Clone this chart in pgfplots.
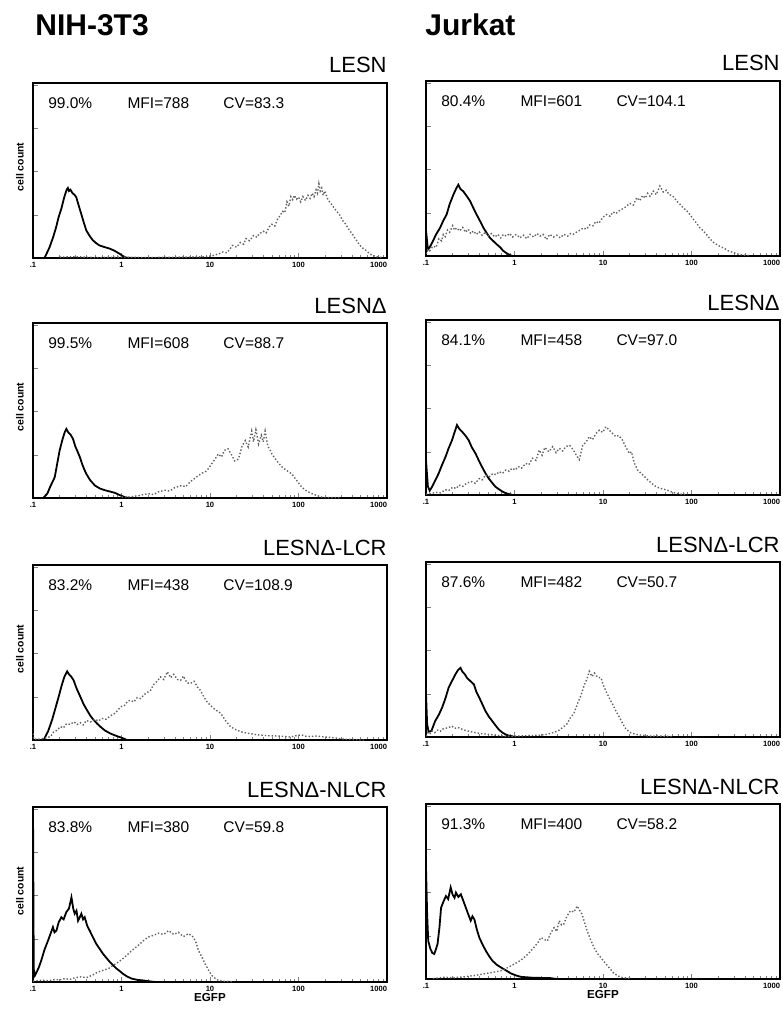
\documentclass[border=0pt]{standalone}
\usepackage{pgfplots}
\pgfplotsset{compat=1.18}
\usepackage{fontspec}
\setmainfont{Liberation Sans}

\newcommand\px{0.5pt}
\tikzset{stat/.style={anchor=base west, inner sep=0pt, font=\fontsize{7.75}{9}\selectfont}}
\pgfplotsset{
  every axis title shift=0pt,
  every axis/.append style={
    scale only axis, width=177pt, height=87.5pt,
    xmin=0.1, xmax=1000, ymin=0, ymax=4.05,
    xtick={0.1,1,10,100,1000}, xticklabels={.1,1,10,100,\llap{1000}},
    minor xtick={0.2,0.3,0.4,0.5,0.6,0.7,0.8,0.9,2,3,4,5,6,7,8,9,20,30,40,50,60,70,80,90,200,300,400,500,600,700,800,900},
    ytick={0,1,2,3,4}, yticklabels={},
    tick align=inside, xtick pos=bottom, ytick pos=left,
    major tick length=2.5pt, minor tick length=1.5pt,
    axis line style={line width=0.8pt},
    xticklabel style={font=\fontsize{3.8}{4}\selectfont\bfseries, inner sep=0pt, anchor=center, yshift=-3.5pt},
    title style={at={(1,1)}, anchor=base east, yshift=5pt, inner sep=0pt, font=\fontsize{11}{13}\selectfont},
    ylabel style={at={(axis description cs:-0.037,0.52)}, anchor=center, inner sep=0pt, font=\fontsize{5.2}{6}\selectfont\bfseries},
    xlabel style={at={(axis description cs:0.5,0)}, anchor=base, yshift=-9.5pt, inner sep=0pt, font=\fontsize{5.8}{6}\selectfont\bfseries},
  },
  ctl/.style={black, line width=0.9pt, no marks},
  gfp/.style={black!62, densely dotted, line width=0.7pt, no marks},
}

\begin{document}
\begin{tikzpicture}
\useasboundingbox (0,0) rectangle (782*\px,-1011*\px);
\node[anchor=base west, inner sep=0pt, font=\fontsize{15}{18}\selectfont\bfseries] at (35*\px,-36*\px) {NIH-3T3};
\node[anchor=base west, inner sep=0pt, font=\fontsize{15}{18}\selectfont\bfseries] at (425*\px,-36*\px) {Jurkat};

% ---- row 1 ----
\begin{semilogxaxis}[at={(33*\px,-258*\px)}, anchor=south west, title={LESN}, ylabel={cell count}]
\addplot[ctl] coordinates {(0.1,0)(0.135,0)(0.154,0.25)(0.17,0.5)(0.183,0.72)(0.195,0.95)(0.209,1.14)(0.225,1.4)(0.24,1.58)(0.248,1.62)(0.255,1.55)(0.265,1.58)(0.28,1.5)(0.295,1.46)(0.308,1.41)(0.33,1.2)(0.351,1.02)(0.375,0.82)(0.40,0.64)(0.44,0.5)(0.475,0.41)(0.52,0.34)(0.565,0.29)(0.65,0.25)(0.73,0.22)(0.83,0.17)(0.95,0.1)(1.05,0.04)(1.12,0.01)(1.3,0)};
\addplot[gfp] coordinates {(0.2,0.02)(0.3,0.03)(0.5,0.01)(1,0.02)(2,0.01)(5,0.02)(9,0.03)(11,0.06)(12.7,0.1)(14,0.14)(15.5,0.12)(17,0.22)(18,0.29)(20,0.25)(22,0.36)(24,0.32)(25.5,0.45)(28,0.4)(31,0.52)(34,0.48)(36,0.56)(40,0.62)(43,0.58)(46.7,0.72)(50,0.78)(54,0.74)(58,0.9)(62,0.98)(66,1.08)(70,1.05)(74,1.3)(78,1.2)(82,1.42)(86,1.35)(90,1.45)(95,1.36)(100,1.41)(106,1.3)(112,1.42)(120,1.33)(128,1.45)(135,1.38)(143,1.5)(150,1.42)(158,1.58)(164,1.5)(170,1.72)(176,1.55)(183,1.62)(190,1.45)(198,1.55)(204,1.48)(212,1.38)(220,1.32)(230,1.28)(240,1.22)(255,1.15)(270,1.08)(288,1.02)(300,0.95)(320,0.85)(340,0.79)(360,0.7)(380,0.63)(405,0.56)(430,0.47)(455,0.4)(480,0.33)(510,0.26)(540,0.22)(575,0.18)(620,0.12)(680,0.06)(740,0.04)(810,0.02)(900,0.01)};
\node[stat] at (axis description cs:0.042,0.857) {99.0\%};
\node[stat] at (axis description cs:0.266,0.857) {MFI=788};
\node[stat] at (axis description cs:0.537,0.857) {CV=83.3};
\end{semilogxaxis}

\begin{semilogxaxis}[at={(426*\px,-256*\px)}, anchor=south west, title={LESN}]
\addplot[ctl] coordinates {(0.1,0)(0.1,0.6)(0.105,0.15)(0.11,0.2)(0.12,0.35)(0.13,0.5)(0.144,0.65)(0.157,0.82)(0.171,0.96)(0.185,1.2)(0.204,1.42)(0.218,1.55)(0.232,1.65)(0.245,1.55)(0.263,1.5)(0.29,1.38)(0.315,1.27)(0.345,1.1)(0.373,0.96)(0.41,0.8)(0.446,0.65)(0.49,0.52)(0.527,0.42)(0.58,0.34)(0.63,0.27)(0.69,0.2)(0.745,0.12)(0.82,0.06)(0.89,0.02)(0.95,0)};
\addplot[gfp] coordinates {(0.1,0.05)(0.105,0.15)(0.11,0.12)(0.12,0.23)(0.13,0.2)(0.14,0.4)(0.15,0.35)(0.157,0.5)(0.165,0.45)(0.175,0.6)(0.185,0.55)(0.2,0.7)(0.21,0.6)(0.222,0.65)(0.24,0.58)(0.26,0.66)(0.28,0.55)(0.3,0.62)(0.32,0.52)(0.343,0.58)(0.37,0.5)(0.4,0.56)(0.43,0.48)(0.47,0.55)(0.5,0.46)(0.55,0.52)(0.6,0.44)(0.65,0.5)(0.7,0.42)(0.75,0.5)(0.81,0.46)(0.88,0.52)(0.95,0.44)(1.05,0.5)(1.15,0.42)(1.26,0.48)(1.38,0.4)(1.5,0.5)(1.65,0.44)(1.8,0.52)(1.94,0.46)(2.1,0.5)(2.3,0.38)(2.5,0.5)(2.75,0.44)(3.0,0.48)(3.3,0.42)(3.6,0.5)(4.0,0.46)(4.3,0.52)(4.6,0.5)(5.0,0.55)(5.5,0.6)(6.0,0.65)(6.5,0.62)(7.1,0.72)(7.7,0.7)(8.3,0.8)(9,0.76)(10,0.9)(11,0.96)(12,0.92)(13,1.02)(14,0.98)(15.5,1.06)(17,1.1)(18.5,1.15)(20,1.22)(22,1.18)(24,1.35)(26,1.28)(28,1.4)(30,1.34)(32,1.45)(34,1.38)(37,1.5)(40,1.42)(44,1.62)(48,1.48)(52,1.52)(56,1.42)(60,1.4)(64,1.35)(68,1.27)(74,1.2)(80,1.12)(88,1.05)(96,0.96)(105,0.85)(115,0.75)(125,0.65)(136,0.58)(150,0.48)(165,0.38)(180,0.3)(192,0.27)(210,0.22)(229,0.19)(260,0.12)(297,0.08)(340,0.04)(385,0.02)(450,0.01)};
\node[stat] at (axis description cs:0.042,0.857) {80.4\%};
\node[stat] at (axis description cs:0.266,0.857) {MFI=601};
\node[stat] at (axis description cs:0.537,0.857) {CV=104.1};
\end{semilogxaxis}

% ---- row 2 ----
\begin{semilogxaxis}[at={(33*\px,-498*\px)}, anchor=south west, title={LESNΔ}, ylabel={cell count}]
\addplot[ctl] coordinates {(0.1,0)(0.13,0)(0.145,0.1)(0.158,0.28)(0.176,0.48)(0.188,0.8)(0.2,1.1)(0.215,1.35)(0.228,1.52)(0.238,1.6)(0.25,1.52)(0.265,1.47)(0.283,1.37)(0.3,1.2)(0.318,1.08)(0.338,0.95)(0.36,0.78)(0.38,0.66)(0.4,0.56)(0.44,0.42)(0.5,0.29)(0.57,0.22)(0.65,0.18)(0.74,0.15)(0.84,0.12)(0.95,0.07)(1.09,0.02)(1.2,0)};
\addplot[gfp] coordinates {(1.0,0.02)(1.3,0.03)(1.6,0.06)(2.0,0.1)(2.3,0.08)(2.6,0.14)(3.1,0.18)(3.5,0.16)(4.0,0.24)(4.8,0.29)(5.3,0.26)(6.0,0.38)(6.7,0.45)(7.4,0.52)(8.2,0.58)(9.0,0.62)(9.6,0.68)(10.5,0.8)(11.4,0.9)(12.4,1.02)(13.5,0.95)(14.5,1.1)(16,1.14)(17.5,1.0)(19,0.86)(21,0.9)(23,1.2)(25,1.33)(27,1.18)(29.6,1.55)(31,1.3)(33,1.58)(35.4,1.25)(38,1.45)(40,1.3)(42,1.55)(45,1.2)(48,1.1)(50,1.02)(55,0.9)(60,0.8)(65,0.72)(72,0.65)(78,0.6)(84,0.56)(92,0.45)(100,0.35)(109,0.25)(120,0.18)(130,0.14)(142,0.1)(160,0.06)(183,0.02)(200,0.01)(300,0.01)};
\node[stat] at (axis description cs:0.042,0.857) {99.5\%};
\node[stat] at (axis description cs:0.266,0.857) {MFI=608};
\node[stat] at (axis description cs:0.537,0.857) {CV=88.7};
\end{semilogxaxis}

\begin{semilogxaxis}[at={(426*\px,-495*\px)}, anchor=south west, title={LESNΔ}]
\addplot[ctl] coordinates {(0.1,0)(0.1,0.8)(0.105,0.2)(0.11,0.1)(0.117,0.19)(0.128,0.35)(0.139,0.5)(0.152,0.7)(0.166,0.88)(0.18,1.08)(0.197,1.27)(0.21,1.45)(0.224,1.62)(0.24,1.52)(0.257,1.46)(0.28,1.37)(0.303,1.27)(0.33,1.1)(0.363,0.96)(0.395,0.8)(0.43,0.65)(0.47,0.5)(0.513,0.38)(0.56,0.28)(0.61,0.19)(0.67,0.13)(0.73,0.08)(0.8,0.04)(0.87,0.02)(0.95,0)};
\addplot[gfp] coordinates {(0.1,0.02)(0.117,0.04)(0.13,0.06)(0.145,0.05)(0.166,0.12)(0.18,0.1)(0.2,0.18)(0.22,0.15)(0.235,0.23)(0.26,0.2)(0.29,0.28)(0.33,0.31)(0.36,0.27)(0.4,0.38)(0.43,0.35)(0.47,0.46)(0.52,0.42)(0.57,0.5)(0.62,0.47)(0.67,0.54)(0.73,0.5)(0.8,0.58)(0.87,0.55)(0.94,0.62)(1.02,0.58)(1.1,0.66)(1.2,0.62)(1.34,0.73)(1.45,0.7)(1.6,0.85)(1.75,0.8)(1.9,1.04)(2.05,0.92)(2.2,1.1)(2.45,1.0)(2.7,1.12)(2.95,0.98)(3.2,1.08)(3.5,1.02)(3.8,1.12)(4.2,1.15)(4.6,1.05)(5.0,0.92)(5.4,0.82)(5.9,1.15)(6.4,1.22)(7.0,1.35)(7.6,1.28)(8.3,1.42)(9.1,1.5)(9.9,1.45)(10.8,1.58)(11.8,1.5)(12.9,1.42)(14,1.35)(15,1.38)(16.6,1.27)(18,1.12)(19.9,0.96)(21,1.0)(22.5,0.75)(24.6,0.58)(27,0.5)(30.9,0.38)(35,0.28)(39.8,0.19)(45,0.15)(51.6,0.12)(58,0.08)(67,0.04)(75,0.02)(90,0.01)};
\node[stat] at (axis description cs:0.042,0.857) {84.1\%};
\node[stat] at (axis description cs:0.266,0.857) {MFI=458};
\node[stat] at (axis description cs:0.537,0.857) {CV=97.0};
\end{semilogxaxis}

% ---- row 3 ----
\begin{semilogxaxis}[at={(33*\px,-740*\px)}, anchor=south west, title={LESNΔ-LCR}, ylabel={cell count}]
\addplot[ctl] coordinates {(0.1,0)(0.132,0)(0.148,0.2)(0.164,0.46)(0.18,0.75)(0.195,1.0)(0.21,1.25)(0.225,1.45)(0.243,1.59)(0.255,1.52)(0.27,1.47)(0.288,1.38)(0.31,1.2)(0.343,1.0)(0.375,0.82)(0.408,0.69)(0.445,0.56)(0.486,0.46)(0.53,0.38)(0.576,0.31)(0.65,0.22)(0.75,0.15)(0.86,0.1)(0.98,0.06)(1.07,0.03)(1.15,0)};
\addplot[gfp] coordinates {(0.1,0.15)(0.102,0.02)(0.12,0.02)(0.14,0.05)(0.158,0.08)(0.17,0.18)(0.185,0.22)(0.204,0.31)(0.22,0.28)(0.24,0.38)(0.264,0.36)(0.29,0.42)(0.315,0.36)(0.343,0.4)(0.37,0.35)(0.4,0.45)(0.447,0.42)(0.5,0.48)(0.55,0.44)(0.6,0.5)(0.67,0.48)(0.75,0.56)(0.82,0.6)(0.9,0.68)(0.98,0.77)(1.08,0.8)(1.18,0.9)(1.26,0.92)(1.38,0.88)(1.5,0.98)(1.64,0.96)(1.8,1.05)(1.95,1.1)(2.13,1.15)(2.3,1.28)(2.5,1.35)(2.76,1.46)(3.0,1.4)(3.3,1.58)(3.6,1.44)(3.9,1.52)(4.3,1.4)(4.66,1.38)(5.0,1.48)(5.5,1.32)(6.0,1.31)(6.6,1.36)(7.2,1.23)(7.8,1.15)(8.5,1.0)(9.3,0.88)(10,0.81)(11.5,0.7)(13.2,0.62)(15,0.45)(17,0.31)(19.5,0.24)(22.4,0.19)(28,0.15)(34.4,0.12)(45,0.1)(63,0.09)(80,0.07)(95,0.1)(107,0.12)(125,0.08)(160,0.09)(200,0.07)(230,0.06)(280,0.04)(325,0.02)(420,0.01)(550,0)};
\node[stat] at (axis description cs:0.042,0.857) {83.2\%};
\node[stat] at (axis description cs:0.266,0.857) {MFI=438};
\node[stat] at (axis description cs:0.537,0.857) {CV=108.9};
\end{semilogxaxis}

\begin{semilogxaxis}[at={(426*\px,-737*\px)}, anchor=south west, title={LESNΔ-LCR}]
\addplot[ctl] coordinates {(0.1,0)(0.1,1.0)(0.103,0.3)(0.107,0.12)(0.115,0.14)(0.127,0.37)(0.14,0.52)(0.152,0.68)(0.166,0.9)(0.18,1.14)(0.197,1.3)(0.215,1.45)(0.23,1.55)(0.245,1.6)(0.26,1.5)(0.275,1.45)(0.29,1.37)(0.315,1.3)(0.347,1.22)(0.37,1.05)(0.4,0.91)(0.435,0.75)(0.47,0.6)(0.51,0.48)(0.56,0.37)(0.61,0.27)(0.66,0.18)(0.72,0.11)(0.79,0.06)(0.87,0.03)(0.94,0.02)(1.0,0)};
\addplot[gfp] coordinates {(0.1,0.02)(0.105,0.1)(0.11,0.06)(0.117,0.14)(0.125,0.1)(0.135,0.16)(0.145,0.13)(0.152,0.18)(0.165,0.2)(0.18,0.22)(0.197,0.25)(0.21,0.2)(0.23,0.22)(0.257,0.18)(0.28,0.15)(0.31,0.13)(0.363,0.1)(0.42,0.08)(0.51,0.06)(0.62,0.04)(0.79,0.02)(1.0,0.02)(1.4,0.03)(1.9,0.04)(2.3,0.06)(2.7,0.1)(3.1,0.14)(3.5,0.22)(3.9,0.3)(4.3,0.45)(4.7,0.55)(5.1,0.75)(5.6,0.95)(6.2,1.22)(6.6,1.35)(7.0,1.52)(7.5,1.4)(8.0,1.48)(8.7,1.38)(9.5,1.37)(10.1,1.2)(10.8,1.06)(11.8,0.9)(12.9,0.75)(14,0.6)(15.4,0.45)(16.8,0.3)(18.2,0.18)(20.5,0.1)(23.6,0.06)(28,0.04)(33.6,0.02)(45,0.02)(62,0.01)};
\node[stat] at (axis description cs:0.042,0.857) {87.6\%};
\node[stat] at (axis description cs:0.266,0.857) {MFI=482};
\node[stat] at (axis description cs:0.537,0.857) {CV=50.7};
\end{semilogxaxis}

% ---- row 4 ----
\begin{semilogxaxis}[at={(33*\px,-982*\px)}, anchor=south west, title={LESNΔ-NLCR}, ylabel={cell count}, xlabel={EGFP}]
\addplot[ctl] coordinates {(0.1,0)(0.1,4.05)(0.102,0.3)(0.105,0.15)(0.11,0.23)(0.117,0.35)(0.124,0.5)(0.135,0.75)(0.148,0.96)(0.158,1.12)(0.168,1.27)(0.175,1.15)(0.184,1.19)(0.195,1.38)(0.209,1.5)(0.222,1.45)(0.238,1.62)(0.255,1.7)(0.272,1.96)(0.285,1.7)(0.296,1.58)(0.31,1.65)(0.323,1.42)(0.338,1.5)(0.352,1.58)(0.368,1.45)(0.384,1.5)(0.41,1.3)(0.437,1.19)(0.48,1.02)(0.52,0.88)(0.57,0.76)(0.62,0.65)(0.68,0.55)(0.74,0.46)(0.81,0.38)(0.88,0.31)(0.96,0.25)(1.04,0.19)(1.15,0.13)(1.3,0.08)(1.5,0.05)(1.7,0.04)(2.0,0.02)(2.4,0)};
\addplot[gfp] coordinates {(0.1,0.02)(0.124,0.04)(0.15,0.03)(0.18,0.06)(0.2,0.05)(0.23,0.08)(0.26,0.06)(0.3,0.1)(0.35,0.12)(0.4,0.1)(0.46,0.15)(0.54,0.23)(0.62,0.27)(0.71,0.31)(0.8,0.38)(0.92,0.46)(1.05,0.55)(1.19,0.65)(1.35,0.75)(1.55,0.85)(1.75,0.95)(2.0,1.04)(2.3,1.08)(2.6,1.13)(3.0,1.1)(3.4,1.19)(3.9,1.1)(4.4,1.15)(5.0,1.05)(5.7,1.12)(6.5,1.04)(7.0,0.9)(7.4,0.73)(8.1,0.58)(8.8,0.42)(9.6,0.28)(10.5,0.15)(11.5,0.08)(12.4,0.04)(14,0.02)(17.7,0.01)};
\node[stat] at (axis description cs:0.042,0.857) {83.8\%};
\node[stat] at (axis description cs:0.266,0.857) {MFI=380};
\node[stat] at (axis description cs:0.537,0.857) {CV=59.8};
\end{semilogxaxis}

\begin{semilogxaxis}[at={(426*\px,-979*\px)}, anchor=south west, title={LESNΔ-NLCR}, xlabel={EGFP}]
\addplot[ctl] coordinates {(0.1,0)(0.1,2.58)(0.103,1.5)(0.106,0.88)(0.112,0.7)(0.118,0.6)(0.124,0.58)(0.13,0.7)(0.135,0.81)(0.142,1.2)(0.148,1.65)(0.158,1.8)(0.168,1.92)(0.178,1.85)(0.19,2.12)(0.2,1.95)(0.21,1.88)(0.218,2.0)(0.232,1.9)(0.248,1.96)(0.265,1.8)(0.282,1.65)(0.3,1.5)(0.32,1.35)(0.335,1.45)(0.352,1.38)(0.375,1.15)(0.4,0.96)(0.435,0.8)(0.475,0.65)(0.52,0.52)(0.565,0.42)(0.63,0.33)(0.7,0.27)(0.8,0.2)(0.91,0.13)(1.05,0.08)(1.18,0.05)(1.6,0.03)(2.57,0.02)(3,0)};
\addplot[gfp] coordinates {(0.12,0.01)(0.161,0.04)(0.2,0.03)(0.27,0.05)(0.35,0.08)(0.455,0.12)(0.55,0.15)(0.7,0.19)(0.85,0.27)(1.0,0.35)(1.15,0.42)(1.29,0.5)(1.45,0.6)(1.66,0.73)(1.85,0.85)(1.99,0.96)(2.15,0.92)(2.35,0.88)(2.55,1.05)(2.8,1.19)(3.0,1.1)(3.2,1.35)(3.4,1.25)(3.6,1.27)(3.9,1.45)(4.3,1.58)(4.7,1.55)(5.1,1.69)(5.4,1.6)(5.8,1.5)(6.2,1.3)(6.6,1.12)(7.2,0.92)(7.9,0.73)(8.6,0.6)(9.4,0.5)(10.3,0.4)(11.2,0.31)(12.2,0.22)(13.3,0.13)(15.8,0.04)(20.5,0.01)};
\node[stat] at (axis description cs:0.042,0.857) {91.3\%};
\node[stat] at (axis description cs:0.266,0.857) {MFI=400};
\node[stat] at (axis description cs:0.537,0.857) {CV=58.2};
\end{semilogxaxis}
\end{tikzpicture}
\end{document}
